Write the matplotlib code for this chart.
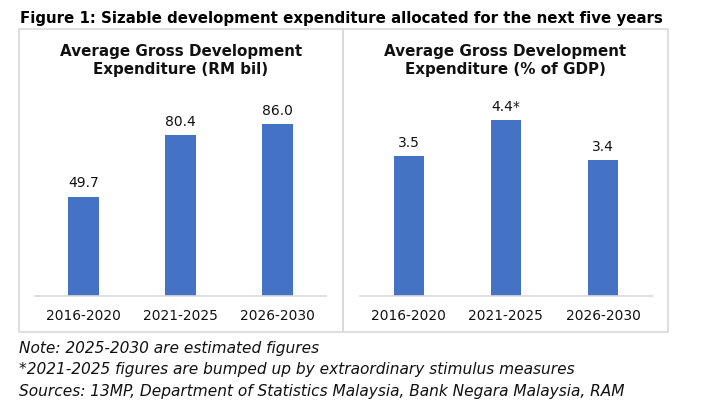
import matplotlib
matplotlib.use("Agg")
import matplotlib.pyplot as plt
from matplotlib.patches import Rectangle

# ---- data ----
categories = ["2016-2020", "2021-2025", "2026-2030"]
rm_bil = [49.7, 80.4, 86.0]
rm_labels = ["49.7", "80.4", "86.0"]
pct_gdp = [3.5, 4.4, 3.4]
pct_labels = ["3.5", "4.4*", "3.4"]
fig_title = "Figure 1: Sizable development expenditure allocated for the next five years"
left_title = "Average Gross Development\nExpenditure (RM bil)"
right_title = "Average Gross Development\nExpenditure (% of GDP)"
notes = [
    "Note: 2025-2030 are estimated figures",
    "*2021-2025 figures are bumped up by extraordinary stimulus measures",
    "Sources: 13MP, Department of Statistics Malaysia, Bank Negara Malaysia, RAM",
]

W, H = 718, 409
BAR = "#4472C4"
GRID = "#d9d9d9"
TXT = "#111111"

plt.rcParams['font.family'] = ['DejaVu Sans']
fig = plt.figure(figsize=(W / 100, H / 100), dpi=100)
fig.patch.set_facecolor("white")


def fx(px):
    return px / W


def fy(py):
    return 1 - py / H


# panel boxes
for x0, x1 in [(18.5, 343), (343, 667.5)]:
    fig.patches.append(Rectangle((fx(x0), fy(331.5)), fx(x1) - fx(x0), fy(28.5) - fy(331.5),
                                 transform=fig.transFigure, fill=False,
                                 edgecolor=GRID, linewidth=1.2))

renderer = fig.canvas.get_renderer()


def fit(t, target):
    w = t.get_window_extent(renderer).width
    t.set_fontsize(t.get_fontsize() * target / w)


def panel(x0, x1, ymax, vals, labels, title, cx):
    ax = fig.add_axes([fx(x0), fy(296.3), fx(x1) - fx(x0), fy(96.3) - fy(296.3)])
    xs = range(len(categories))
    ax.bar(xs, vals, width=0.31, color=BAR, zorder=2)
    ax.set_xlim(-0.5, len(categories) - 0.5)
    ax.set_ylim(0, ymax)
    ax.set_xticks(list(xs))
    ax.set_xticklabels(categories, fontsize=9.9, color=TXT)
    ax.tick_params(axis='x', length=0, pad=9)
    ax.set_yticks([])
    for s in ["left", "right", "top"]:
        ax.spines[s].set_visible(False)
    ax.spines["bottom"].set_color(GRID)
    ax.spines["bottom"].set_linewidth(1.2)
    ax.set_facecolor("none")
    for x, v, l in zip(xs, vals, labels):
        ax.annotate(l, (x, v), xytext=(0, 7), textcoords='offset points',
                    ha='center', va='baseline', fontsize=10, color=TXT)
    l1, l2 = title.split("\n")
    t1 = fig.text(fx(cx), fy(56), l1, ha='center', va='baseline',
                  fontsize=11, fontweight='bold', color=TXT)
    fit(t1, 241)
    t2 = fig.text(fx(cx), fy(74), l2, ha='center', va='baseline',
                  fontsize=t1.get_fontsize(), fontweight='bold', color=TXT)
    return ax


panel(35, 326, 100, rm_bil, rm_labels, left_title, 180.7)
panel(360, 651.7, 5, pct_gdp, pct_labels, right_title, 505.5)

tt = fig.text(fx(19.5), fy(22.5), fig_title, ha='left', va='baseline',
              fontsize=10, fontweight='bold', color='black')
fit(tt, 646)

ny = [352.7, 374.3, 396]
nts = []
for y, n in zip(ny, notes):
    nts.append(fig.text(fx(19), fy(y), n, ha='left', va='baseline', fontsize=9.7,
                        style='italic', color=TXT))
fit(nts[2], 606)
for t in nts[:2]:
    t.set_fontsize(nts[2].get_fontsize())

fig.savefig("out.png", dpi=100, facecolor="white")
